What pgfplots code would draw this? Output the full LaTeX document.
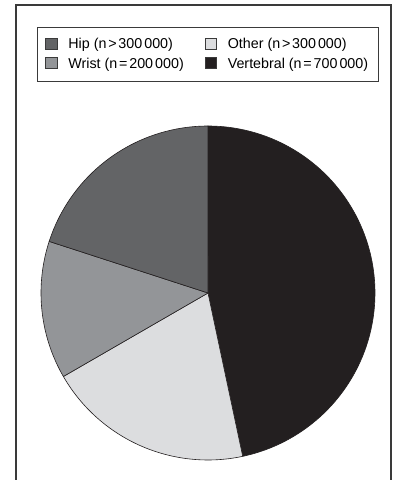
\documentclass[border=0pt]{standalone}
\usepackage{fontspec}
\setmainfont{Liberation Sans}
\usepackage{pgfplots}
\pgfplotsset{compat=1.18}
\definecolor{hipc}{HTML}{636466}
\definecolor{wristc}{HTML}{939598}
\definecolor{otherc}{HTML}{DCDDDF}
\definecolor{vertc}{HTML}{231F20}
\definecolor{framec}{HTML}{3A3A3A}
% fracture counts (thousands)
\def\vVert{700}\def\vOther{300}\def\vWrist{200}\def\vHip{300}
\pgfmathsetmacro\tot{\vVert+\vOther+\vWrist+\vHip}
\pgfmathsetmacro\aA{90}
\pgfmathsetmacro\aB{\aA-\vVert/\tot*360}
\pgfmathsetmacro\aC{\aB-\vOther/\tot*360}
\pgfmathsetmacro\aD{\aC-\vWrist/\tot*360}
\pgfmathsetmacro\aE{\aD-\vHip/\tot*360}
\newcommand\rel[1]{\kern1.8bp#1\kern1.8bp}
\newcommand\thsp{\kern2bp}
\newcommand\lf{\fontsize{14.3bp}{16bp}\selectfont}
\pgfplotsset{sq/.style={legend image code/.code={\path[draw=none,fill=none] (0bp,0bp) (21bp,0bp);\draw[fill=#1, draw=framec, line width=0.7bp] (0.4bp,-4.4bp) rectangle (11.6bp,6.6bp);}}}
\begin{document}
\lf
\begin{tikzpicture}
\path[use as bounding box] (0bp,0bp) rectangle (394bp,480bp);
\draw[line width=1.3bp, color=framec] (16bp,-5bp) -- (16bp,475bp) -- (391bp,475bp) -- (391bp,-5bp);
\begin{axis}[
  at={(208bp,187bp)}, anchor=origin,
  hide axis, scale only axis, clip=false,
  width=334bp, height=334bp,
  xmin=-1, xmax=1, ymin=-1, ymax=1,
  legend columns=2, legend cell align=left,
  legend style={at={(-0.012,1.2964)}, anchor=north west, draw=framec, line width=0.8bp,
    font=\lf, inner xsep=8bp, inner ysep=9bp,
    row sep=3bp,
    /tikz/every even column/.append style={column sep=19bp}},
]
\addlegendimage{sq=hipc}\addlegendentry{Hip (n\rel{>}300\thsp000)}
\addlegendimage{sq=otherc}\addlegendentry{Other (n\rel{>}300\thsp000)}
\addlegendimage{sq=wristc}\addlegendentry{Wrist (n\rel{=}200\thsp000)}
\addlegendimage{sq=vertc}\addlegendentry{Vertebral (n\rel{=}700\thsp000)}
\addplot[forget plot, fill=vertc, draw=vertc, line width=0.6bp, domain=\aB:\aA, samples=120] ({cos(x)},{sin(x)}) -- (axis cs:0,0) -- cycle;
\addplot[forget plot, fill=otherc, draw=vertc, line width=0.6bp, domain=\aC:\aB, samples=60] ({cos(x)},{sin(x)}) -- (axis cs:0,0) -- cycle;
\addplot[forget plot, fill=wristc, draw=vertc, line width=0.6bp, domain=\aD:\aC, samples=50] ({cos(x)},{sin(x)}) -- (axis cs:0,0) -- cycle;
\addplot[forget plot, fill=hipc, draw=vertc, line width=0.6bp, domain=\aE:\aD, samples=60] ({cos(x)},{sin(x)}) -- (axis cs:0,0) -- cycle;
\end{axis}
\end{tikzpicture}
\end{document}
